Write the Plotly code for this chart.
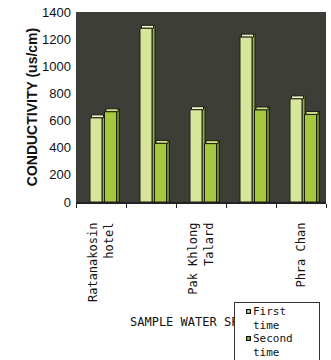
import plotly.graph_objects as go

# Sampling spots along the river (only every other spot is labelled on the axis)
spots = ["Ratanakosin hotel", "Tha Tien", "Pak Khlong Talard", "Tha Chang", "Phra Chan"]
tick_labels = ["Ratanakosin<br>hotel", "", "Pak Khlong<br>Talard", "", "Phra Chan"]

# Conductivity readings (us/cm)
first_time = [620, 1280, 680, 1215, 760]
second_time = [665, 432, 430, 678, 645]

y_ticks = [0, 200, 400, 600, 800, 1000, 1200, 1400]

series_names = ["First", "Second"]
front_colors = ["#d6e79c", "#a6c83e"]
side_colors = ["#93ad45", "#6d8a22"]
top_colors = ["#eef5cf", "#cfe386"]

mono = "DejaVu Sans Mono, Liberation Mono, monospace"
narrow = "Liberation Sans Narrow, Arial Narrow, Liberation Sans, Arial, sans-serif"
edge = dict(color="#1c1f12", width=1)

W, H = 331, 360
ML, MR, MT, MB = 76, 5, 12, 158
PW, PH = W - ML - MR, H - MT - MB


def px(xp):
    return (xp - ML) / PW


def py(yp):
    return (H - MB - yp) / PH


# pseudo-3D bars: side face, top cap, then the front face
BAR_W, SIDE_W, DEPTH = 0.24, 0.06, 22
offsets = [-0.22, 0.07]

fig = go.Figure()
for vals, off, fc, sc, tc in zip([first_time, second_time], offsets,
                                 front_colors, side_colors, top_colors):
    fig.add_trace(go.Bar(
        x=spots, y=[v + DEPTH for v in vals], offset=off + BAR_W, width=SIDE_W,
        marker=dict(color=sc, line=edge), showlegend=False, hoverinfo="skip"))
    fig.add_trace(go.Bar(
        x=spots, y=[DEPTH] * len(vals), base=vals, offset=off + SIDE_W / 2,
        width=BAR_W, marker=dict(color=tc, line=edge), showlegend=False,
        hoverinfo="skip"))
    fig.add_trace(go.Bar(
        x=spots, y=vals, offset=off, width=BAR_W,
        marker=dict(color=fc, line=edge), showlegend=False))

annotations = [
    # x-axis title (partly hidden behind the legend box)
    dict(text="SAMPLE WATER SPOTS", xref="paper", yref="paper",
         x=px(128), y=py(322), xanchor="left", yanchor="middle",
         showarrow=False, font=dict(family=mono, size=12, color="#111111")),
    # legend box
    dict(text=" ", xref="paper", yref="paper", x=px(234), y=py(302),
         xanchor="left", yanchor="top", showarrow=False,
         width=84, height=70, borderpad=0, bgcolor="white",
         bordercolor="#333333", borderwidth=1),
]
for nm, yy in zip(series_names, [304, 331]):
    annotations.append(dict(
        text=nm + "<br>time", xref="paper", yref="paper", x=px(252), y=py(yy),
        xanchor="left", yanchor="top", align="left", showarrow=False,
        borderpad=0, font=dict(family=mono, size=11, color="#111111")))
for col, yy in zip(front_colors, [311, 338]):
    annotations.append(dict(
        text=" ", xref="paper", yref="paper", x=px(251), y=py(yy),
        xanchor="right", yanchor="middle", showarrow=False,
        width=3, height=3, borderpad=0, bgcolor=col,
        bordercolor="#111111", borderwidth=1.2))

fig.update_layout(
    width=W, height=H,
    margin=dict(l=ML, r=MR, t=MT, b=MB, autoexpand=False),
    paper_bgcolor="white",
    plot_bgcolor="#3d3e38",
    barmode="overlay",
    showlegend=False,
    annotations=annotations,
)

fig.update_xaxes(
    tickvals=spots, ticktext=tick_labels, tickangle=-90,
    tickfont=dict(family=mono, size=12, color="#111111"),
    ticks="outside", ticklen=4, tickcolor="#222222", tickson="boundaries",
    ticklabelstandoff=14, automargin=False,
    showline=True, linecolor="#222222", linewidth=1.5,
    showgrid=False,
)
fig.update_yaxes(
    range=[0, 1400], tickvals=y_ticks, automargin=False,
    tickfont=dict(family=narrow, size=13, color="#111111"),
    title=dict(text="<b>CONDUCTIVITY (us/cm)</b>",
               font=dict(family=narrow, size=14, color="#111111"), standoff=1),
    showgrid=False, zeroline=False,
    showline=False, ticks="", ticklabelstandoff=4,
)

fig.write_html("out.html")
